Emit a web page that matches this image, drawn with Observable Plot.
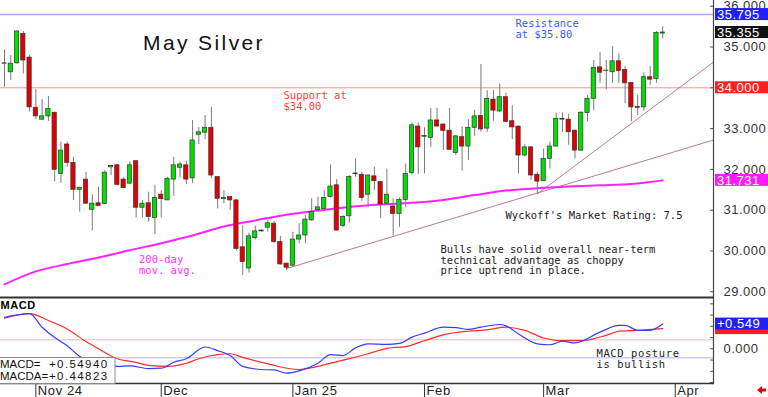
<!DOCTYPE html>
<html>
<head>
<meta charset="utf-8">
<script src="https://cdn.jsdelivr.net/npm/d3@7"></script>
<script src="https://cdn.jsdelivr.net/npm/@observablehq/plot@0.6"></script>
<style>
html,body{margin:0;padding:0;background:#fff;}
#chart{position:relative;width:768px;height:397px;overflow:hidden;background:#fff;}
#chart svg{position:absolute;left:0;overflow:visible;}
</style>
</head>
<body>
<div id="chart"></div>
<script>
// ---------- DATA ----------
// trading-day index 0 = Oct 25 2024 ... 105 = Mar 28 2025
const opens = [34.59,34.38,34.60,35.32,34.74,33.51,33.22,33.30,33.39,31.89,
32.61,32.16,31.50,31.75,31.01,31.17,31.15,32.05,32.10,31.75,
31.65,32.20,31.06,31.17,30.81,31.38,31.24,31.75,32.04,32.10,
31.78,32.85,32.90,33.02,31.81,31.27,31.32,31.24,30.09,29.57,
30.32,30.50,30.57,30.67,30.22,29.69,29.64,30.28,30.38,30.75,
31.00,31.03,31.32,31.61,30.61,30.85,31.88,31.87,31.38,31.83,
31.69,31.16,31.09,30.91,31.25,31.91,33.05,32.80,32.77,33.20,
33.10,32.95,32.40,32.79,32.56,33.02,33.31,33.00,33.71,33.42,
33.77,33.18,33.05,32.34,32.54,31.87,31.71,32.26,32.56,33.24,
33.22,32.95,32.46,33.38,33.73,34.50,34.41,34.38,34.65,34.44,
34.12,33.53,33.52,34.26,34.22,35.33];
const highs = [34.93,34.79,35.40,35.38,34.79,33.96,33.71,33.79,33.40,32.67,
32.67,32.30,31.56,31.93,31.38,31.56,31.97,32.10,32.12,31.79,
32.18,32.21,31.24,31.44,31.61,31.48,31.80,32.30,32.18,32.20,
33.20,33.03,33.32,33.52,31.82,31.48,31.33,31.26,30.62,30.44,
30.61,30.52,30.75,30.72,30.36,29.70,30.46,30.67,30.87,31.28,
31.32,31.48,32.11,31.75,30.87,31.85,32.26,31.93,31.87,32.05,
31.70,32.01,31.28,31.30,32.13,33.14,33.14,33.02,33.49,33.50,
33.11,33.49,32.82,33.04,33.22,33.45,34.57,33.93,33.93,34.10,
33.87,33.56,33.06,32.60,32.55,31.93,32.50,32.67,33.38,33.38,
33.35,32.96,33.41,33.81,34.67,34.87,34.67,35.01,34.83,34.52,
34.13,33.81,34.37,34.52,35.38,35.50];
const lows = [34.01,34.18,34.58,34.34,33.40,33.22,33.20,33.18,31.69,31.66,
32.05,31.24,30.95,31.14,30.49,31.10,31.15,31.85,31.60,31.53,
31.64,30.81,30.81,30.71,30.40,30.81,31.24,31.34,31.79,31.63,
31.65,32.61,32.73,31.77,31.03,31.16,31.00,30.00,29.40,29.46,
30.27,30.46,30.46,30.18,29.65,29.52,29.60,30.18,30.18,30.73,
30.95,31.00,31.30,30.50,30.58,30.68,31.81,31.22,31.06,31.48,
30.79,31.15,30.38,30.58,31.06,31.86,31.88,31.89,32.54,33.04,
32.46,32.47,32.34,31.96,32.22,32.81,32.91,32.91,33.18,33.40,
33.15,32.73,31.89,32.30,31.73,31.38,31.70,32.01,32.55,32.91,
32.59,32.26,32.45,33.16,33.44,34.10,33.95,34.11,34.11,33.61,
33.16,33.32,33.43,34.06,34.11,35.20];
const closes = [34.60,34.59,35.38,34.67,33.52,33.30,33.30,33.48,31.99,32.46,
32.16,31.50,31.55,31.16,31.16,31.10,31.92,32.08,31.62,31.54,
32.10,31.06,31.16,30.83,31.30,31.27,31.77,32.10,32.12,31.75,
32.71,32.91,33.02,31.85,31.28,31.30,31.24,30.05,29.73,30.36,
30.48,30.48,30.68,30.22,29.67,29.59,30.28,30.38,30.77,30.95,
31.07,31.30,31.58,30.50,30.83,31.81,31.90,31.30,31.85,31.71,
31.14,31.38,30.91,31.25,31.89,33.08,32.54,32.82,33.20,33.05,
32.94,32.48,32.81,32.56,33.02,33.30,32.98,33.73,33.44,33.77,
33.16,33.03,32.34,32.54,31.85,31.70,32.26,32.56,33.24,33.22,
32.91,32.46,33.39,33.73,34.49,34.37,34.42,34.65,34.41,34.11,
33.52,33.51,34.26,34.20,35.34,35.355];

// 200-day moving average (sampled)
const maIdx  = [0,5,10,15,20,25,30,35,40,45,50,55,60,65,70,75,80,85,90,95,100,103,105];
const maVals = [29.18,29.50,29.68,29.84,30.02,30.19,30.38,30.60,30.75,30.89,30.99,31.08,31.14,31.18,31.25,31.37,31.48,31.54,31.58,31.61,31.64,31.69,31.731];

// MACD (blue) and MACD average (red)
const macdIdx  = [0,4,6,8,10,12,15,18,20,23,25,27,29,32,34,36,38,41,43,45,47,50,52,54,56,58,61,63,65,67,70,72,74,76,79,80,82,85,87,89,91,95,98,99,101,103,105];
const macdVals = [0.70,0.78,0.48,0.25,0.07,-0.17,-0.33,-0.39,-0.38,-0.44,-0.43,-0.30,-0.22,0.04,-0.04,-0.15,-0.39,-0.46,-0.47,-0.54,-0.49,-0.32,-0.13,-0.15,0.02,0.11,0.10,0.12,0.26,0.35,0.48,0.47,0.43,0.48,0.54,0.51,0.33,0.11,0.09,0.17,0.13,0.37,0.52,0.52,0.41,0.41,0.549];
const sigIdx  = [0,4,7,10,13,15,18,21,23,26,29,31,34,36,38,41,43,47,50,52,55,58,61,64,67,70,74,77,80,83,86,89,92,96,98,101,105];
const sigVals = [0.68,0.78,0.63,0.44,0.16,0.00,-0.22,-0.30,-0.37,-0.39,-0.32,-0.22,-0.13,-0.11,-0.19,-0.30,-0.37,-0.46,-0.39,-0.32,-0.22,-0.11,0.01,0.05,0.18,0.31,0.39,0.42,0.48,0.41,0.24,0.18,0.18,0.30,0.39,0.41,0.448];

// trendlines (start index/price -> end index/price)
const trendX1 = [45, 85];
const trendY1 = [29.57, 31.40];
const trendX2 = [113.1, 113.1];
const trendY2 = [32.72, 34.63];

// levels and readouts
const resistance = 35.795;
const support = 34.0;
const lastClose = 35.355;
const lastMA = 31.731;
const macdLast = 0.54940;
const macdaLast = 0.44823;
const macdRefLines = [0.2, -0.2];

// axis ticks
const priceTicks = [29, 30, 31, 32, 33, 34, 35, 36];
const macdTicks = [-0.75, -0.5, -0.25, 0, 0.25, 0.5, 0.75, 1.0];
const monthIdx = [5, 25, 46, 67, 86, 107];
const monthLabels = ["Nov 24", "Dec", "Jan 25", "Feb", "Mar", "Apr"];

// ---------- BUILD ----------
const candles = opens.map((o, i) => ({i, open: o, high: highs[i], low: lows[i], close: closes[i]}));
const ma = maIdx.map((i, k) => ({i, v: maVals[k]}));
const macd = macdIdx.map((i, k) => ({i, v: macdVals[k]}));
const sig = sigIdx.map((i, k) => ({i, v: sigVals[k]}));
const trends = trendX1.map((x, k) => ({x1: x, y1: trendY1[k], x2: trendX2[k], y2: trendY2[k]}));

const W = 768, RM = 55;
const xDomain = [-0.64, 113.1];
const SANS = "'Liberation Sans', Arial, sans-serif";
const MONO = "'DejaVu Sans Mono', monospace";
const GREEN = "#00e000", RED = "#e40000";

function note(str, dx, dy, fill, opts = {}) {
  return Plot.text([str], {text: d => d, frameAnchor: "top-left", dx, dy, textAnchor: "start",
    lineAnchor: "middle", fontFamily: MONO, fontSize: 10.5, lineHeight: 1.02, fill, ...opts});
}

const price = Plot.plot({
  width: W, height: 298,
  marginLeft: 0, marginRight: RM, marginTop: 0, marginBottom: 1,
  x: {domain: xDomain, axis: null},
  y: {domain: [28.86, 36.14]},
  style: {background: "transparent", fontFamily: SANS},
  marks: [
    Plot.ruleY([resistance], {stroke: "#a8a8ff", strokeWidth: 1.5}),
    Plot.ruleY([support], {stroke: "#ff8c8c", strokeWidth: 1}),
    Plot.link(trends, {x1: "x1", y1: "y1", x2: "x2", y2: "y2", stroke: "#b8789a", strokeWidth: 1}),
    Plot.line(ma, {x: "i", y: "v", stroke: "#ff22ff", strokeWidth: 2, curve: "monotone-x"}),
    Plot.ruleX(candles, {x: "i", y1: "low", y2: "high", stroke: "#7a7a7a", strokeWidth: 1}),
    Plot.rect(candles, {x1: d => d.i - 0.34, x2: d => d.i + 0.34, y1: "open", y2: "close",
      fill: d => d.close >= d.open ? GREEN : RED, stroke: "#333", strokeWidth: 0.7}),
    // the 34.000 tick label is covered by the support value box, as in the original
    Plot.axisY({anchor: "right", ticks: priceTicks, tickFormat: d => d === support ? "" : d3.format(".3f")(d),
      tickSize: -4, tickPadding: 14, fontSize: 13, fill: "#333", stroke: "#555", label: null}),
    Plot.text(["May Silver"], {text: d => d, frameAnchor: "top-left", dx: 142.5, dy: 43, textAnchor: "start",
      lineAnchor: "middle", fontFamily: SANS, fontSize: 21, fill: "#111"}),
    note("Support at\n$34.00", 283, 100.3, "#ff3b3b"),
    note("Resistance\nat $35.80", 515, 28.5, "#3a5aff"),
    note("200-day\nmov. avg.", 138.5, 264.3, "#ff33ff"),
    note("Wyckoff's Market Rating: 7.5", 505, 215, "#222"),
    note("Bulls have solid overall near-term\ntechnical advantage as choppy\nprice uptrend in place.", 440, 259.8, "#222")
  ]
});

const macdChart = Plot.plot({
  width: W, height: 100,
  marginLeft: 0, marginRight: RM, marginTop: 1, marginBottom: 14,
  x: {domain: xDomain, axis: null},
  y: {domain: [-0.771, 1.118]},
  style: {background: "transparent", fontFamily: SANS},
  marks: [
    Plot.ruleY(macdRefLines, {stroke: (d) => d > 0 ? "#ffb4b4" : "#b4b4ff", strokeWidth: 1}),
    Plot.line(sig, {x: "i", y: "v", stroke: "#ff2a2a", strokeWidth: 1.2, curve: "monotone-x"}),
    Plot.line(macd, {x: "i", y: "v", stroke: "#3a3aff", strokeWidth: 1.2, curve: "monotone-x"}),
    Plot.axisY({anchor: "right", ticks: macdTicks, tickFormat: d => Math.abs(d) < 1e-9 ? "0.000" : "",
      tickSize: -4, tickPadding: 14, fontSize: 13, fill: "#333", stroke: "#555", label: null}),
    Plot.ruleX(monthIdx, {x: d => d, insetTop: 85, insetBottom: -14, stroke: "#333", strokeWidth: 1}),
    Plot.text(monthIdx, {x: d => d, text: (d, k) => monthLabels[k], frameAnchor: "bottom", textAnchor: "start",
      lineAnchor: "middle", dx: 2, dy: 7.5, fontSize: 13, fontFamily: SANS, fill: "#222"}),
    Plot.text(["MACD"], {text: d => d, frameAnchor: "top-left", dx: 0, dy: 7, textAnchor: "start",
      lineAnchor: "middle", fontFamily: SANS, fontSize: 11, fontWeight: "bold", fill: "#000"}),
    note("MACD posture\nis bullish", 596, 60.3, "#222")
  ]
});

const root = document.getElementById("chart");
price.style.top = "0px";
macdChart.style.top = "297px";
root.appendChild(price);
root.appendChild(macdChart);

// letter spacing for axis labels and title
d3.selectAll("#chart [aria-label='y-axis tick label'] text").style("letter-spacing", "0.5px");
d3.select(macdChart).selectAll("[aria-label='text'] text").style("letter-spacing", "0.6px");
d3.select(price).selectAll("[aria-label='text'] text").filter(function() { return this.textContent === "May Silver"; })
  .style("letter-spacing", "2.4px");

// ---------- decorations derived from scales ----------
function decorate(svg, yTopPx, yBotPx, bottomLine) {
  const xr = svg.scale("x").range[1];
  const g = d3.select(svg).append("g");
  g.append("line").attr("x1", xr + 0.5).attr("x2", xr + 0.5).attr("y1", yTopPx).attr("y2", yBotPx)
    .attr("stroke", "#444").attr("stroke-width", 1.2);
  if (bottomLine !== null) {
    g.append("line").attr("x1", 0).attr("x2", xr + 1).attr("y1", bottomLine).attr("y2", bottomLine)
      .attr("stroke", "#333").attr("stroke-width", 1.5);
  }
  return xr;
}
const xr = decorate(price, 0, 298, null);
decorate(macdChart, 0, 86, 86.5);
// thick separator at top of MACD panel
d3.select(macdChart).append("line").attr("x1", 0).attr("x2", xr + 1).attr("y1", 0.5).attr("y2", 0.5)
  .attr("stroke", "#333").attr("stroke-width", 2);

function valueBox(svg, v, label, bg) {
  const y = svg.scale("y").apply(v);
  const g = d3.select(svg).append("g").attr("text-anchor", "start");
  g.append("rect").attr("x", xr + 2).attr("y", y - 6).attr("width", W - xr - 2).attr("height", 12).attr("fill", bg);
  if (label) {
    g.append("text").attr("x", xr + 4).attr("y", y).attr("dy", "0.36em").attr("fill", "#fff")
      .attr("text-anchor", "start")
      .attr("font-family", SANS).attr("font-size", 13).style("letter-spacing", "0.5px").text(label);
  }
}
valueBox(price, resistance, d3.format(".3f")(resistance), "#1f1fff");
valueBox(price, lastClose, d3.format(".3f")(lastClose), "#111");
valueBox(price, support, d3.format(".3f")(support), "#ff2020");
valueBox(price, lastMA, d3.format(".3f")(lastMA), "#ff1aff");
valueBox(macdChart, macdaLast, null, "#ff2020");
valueBox(macdChart, macdLast, d3.format("+.3f")(macdLast), "#1f1fff");

// MACD readout box (lower left)
{
  const g = d3.select(macdChart).append("g").attr("font-family", SANS).attr("font-size", 11.5)
    .attr("fill", "#111").attr("text-anchor", "start");
  g.append("rect").attr("x", -1).attr("y", 60.5).attr("width", 116).attr("height", 26).attr("fill", "#fff")
    .attr("stroke", "#888");
  g.append("text").attr("x", 0).attr("y", 67).attr("dy", "0.36em").text("MACD=");
  g.append("text").attr("x", 49).attr("y", 67).attr("dy", "0.36em").style("letter-spacing", "1.4px")
    .text(d3.format("+.5f")(macdLast));
  g.append("text").attr("x", 0).attr("y", 79).attr("dy", "0.36em").text("MACDA=");
  g.append("text").attr("x", 49).attr("y", 79).attr("dy", "0.36em").style("letter-spacing", "1.4px")
    .text(d3.format("+.5f")(macdaLast));
}
// small red arrow bottom-right
d3.select(macdChart).append("path")
  .attr("d", "M757,93 L762,89 L762,91.5 L766,91.5 L766,94.5 L762,94.5 L762,97 Z").attr("fill", "#e00000");
</script>
</body>
</html>
